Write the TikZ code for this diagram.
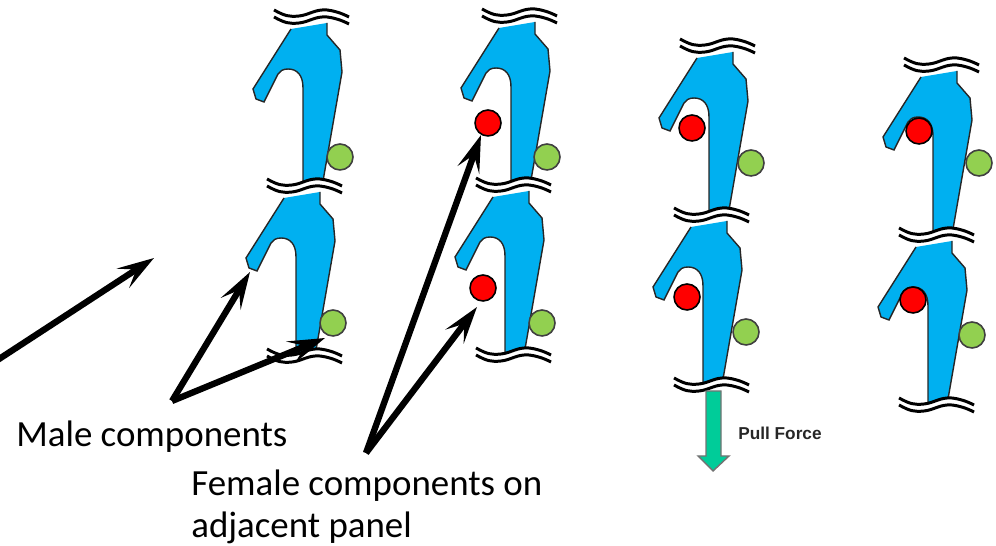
\documentclass[tikz,border=0pt]{standalone}
\usepackage{fontspec}
\setmainfont{Carlito}
\newfontfamily\labelsans{Liberation Sans}
\usetikzlibrary{arrows.meta}
\definecolor{bodyblue}{HTML}{00B0F0}
\definecolor{malegreen}{HTML}{92D050}
\definecolor{pullgreen}{HTML}{00CC99}
\newcommand{\wavepath}{(0,0) .. controls (11,6) and (15,7) .. (25,6) .. controls (35,5) and (41,-1) .. (53,0) .. controls (61,1) and (67,3) .. (75,7)}
\newcommand{\hookpath}{(24,-65) -- (24,-53) -- (37,-38) -- (39,-16) -- (20,93) -- (0,97) -- (0,0) .. controls (0,-13) and (-6,-19) .. (-15,-19) .. controls (-20,-19) and (-23,-17) .. (-25,-14) -- (-39,14) -- (-47,11) -- (-50,1) -- (-12,-59)}
\begin{document}
\begin{tikzpicture}[
    x=0.02cm, y=-0.02cm,
    wave/.style={draw=black, line width=1.7pt},
    band/.style={draw=white, line width=4pt},
    breakmark/.pic={
        \draw[band, shift={(0,3.5)}] \wavepath;
        \draw[wave] \wavepath;
        \draw[wave, shift={(0,7)}] \wavepath;
    },
    hook/.pic={
        \fill[bodyblue] \hookpath -- cycle;
        \draw[black!85, line width=0.8pt] \hookpath;
        \pic at (-29,-78) {breakmark};
    },
    male/.style={circle, draw=black!75, fill=malegreen, line width=0.9pt, minimum size=0.52cm, inner sep=0pt},
    female/.style={circle, draw=black, fill=red, line width=0.9pt, minimum size=0.52cm, inner sep=0pt},
    pointer/.style={-{Stealth[length=21pt, width=13pt, inset=9pt]}, draw=black, line width=3.6pt},
    caption/.style={anchor=base west, inner sep=0pt, font=\fontsize{21}{25}\selectfont}
]
    \useasboundingbox (0,0) rectangle (996,546);

    % first pair, no pins engaged
    \pic at (303,88) {hook};
    \pic at (296,257) {hook};
    \pic at (267,349) {breakmark};
    \node[male] (pinA) at (340,157) {};
    \node[male] (pinB) at (333,323) {};

    % second pair
    \pic at (511,87) {hook};
    \pic at (505,256) {hook};
    \pic at (476,348) {breakmark};
    \node[male] (pinC) at (547,157) {};
    \node[male] (pinD) at (542,323) {};
    \node[female] (holeC) at (488,123) {};
    \node[female] (holeD) at (483,288) {};

    % third pair
    \pic at (709,117) {hook};
    \pic at (703,286) {hook};
    \pic at (674,378) {breakmark};
    \node[male] (pinE) at (751,163) {};
    \node[male] (pinF) at (746,332) {};
    \node[female] (holeE) at (692,128) {};
    \node[female] (holeF) at (687,297) {};

    % fourth pair
    \pic at (933,136) {hook};
    \pic at (928,306) {hook};
    \pic at (899,398) {breakmark};
    \node[male] (pinG) at (979,163) {};
    \node[male] (pinH) at (972,335) {};
    \node[female] (holeG) at (919,131) {};
    \node[female] (holeH) at (913,300) {};

    % pull force
    \draw[black!55, fill=pullgreen, line width=0.8pt]
        (706,391) -- (721,391) -- (721,456) -- (729,456) -- (713,471)
        -- (698,456) -- (706,456) -- cycle;
    \node[anchor=base west, inner sep=0pt, text=black!85, font=\labelsans\bfseries\fontsize{9.8}{12}\selectfont] (pull) at (738,439) {Pull Force};

    \node[caption] (malelabel) at (16,447) {Male components};
    \node[caption] (femalelabel) at (191,495) {Female components on};
    \node[caption] (adjacent) at (191,537) {adjacent panel};

    \coordinate (tailA) at (-4,361);
    \coordinate (tipA) at (154,258);
    \coordinate (tailM) at (172,401);
    \coordinate (tipM) at (250,272);
    \coordinate (tipN) at (325,338);
    \coordinate (tailF) at (366,453);
    \coordinate (tipF) at (481,135);
    \coordinate (tipG) at (477,307);

    \draw[pointer] (tailA) -- (tipA);
    \draw[pointer] (tailM) -- (tipM);
    \draw[pointer] (tailM) -- (tipN);
    \draw[pointer] (tailF) -- (tipF);
    \draw[pointer] (tailF) -- (tipG);
\end{tikzpicture}
\end{document}
